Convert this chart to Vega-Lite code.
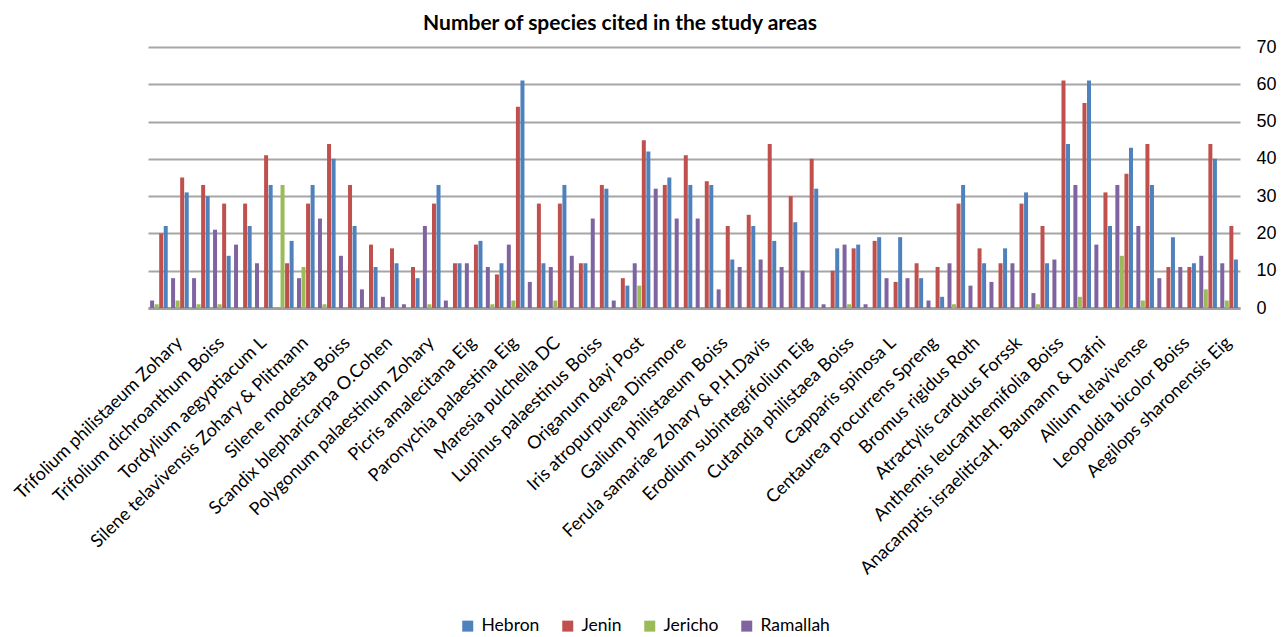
{
  "$schema": "https://vega.github.io/schema/vega-lite/v6.json",
  "width": 1092,
  "height": 261,
  "autosize": {"type": "none"},
  "padding": {"left": 148, "top": 47, "right": 48, "bottom": 329},
  "title": {
    "text": "Number of species cited in the study areas",
    "font": "Lato",
    "fontSize": 21,
    "fontWeight": "bold",
    "color": "#000000",
    "anchor": "middle",
    "dx": -74,
    "offset": 4
  },
  "data": {
    "values": [
      {"species": "(unlabeled 1)", "Hebron": 22, "Jenin": 20, "Jericho": 1, "Ramallah": 2},
      {"species": "Trifolium philistaeum Zohary", "Hebron": 31, "Jenin": 35, "Jericho": 2, "Ramallah": 8},
      {"species": "(unlabeled 3)", "Hebron": 30, "Jenin": 33, "Jericho": 1, "Ramallah": 8},
      {"species": "Trifolium dichroanthum Boiss", "Hebron": 14, "Jenin": 28, "Jericho": 1, "Ramallah": 21},
      {"species": "(unlabeled 5)", "Hebron": 22, "Jenin": 28, "Jericho": 0, "Ramallah": 17},
      {"species": "Tordylium aegyptiacum L", "Hebron": 33, "Jenin": 41, "Jericho": 0, "Ramallah": 12},
      {"species": "(unlabeled 7)", "Hebron": 18, "Jenin": 12, "Jericho": 33, "Ramallah": 0},
      {"species": "Silene telavivensis Zohary & Plitmann", "Hebron": 33, "Jenin": 28, "Jericho": 11, "Ramallah": 8},
      {"species": "(unlabeled 9)", "Hebron": 40, "Jenin": 44, "Jericho": 1, "Ramallah": 24},
      {"species": "Silene modesta Boiss", "Hebron": 22, "Jenin": 33, "Jericho": 0, "Ramallah": 14},
      {"species": "(unlabeled 11)", "Hebron": 11, "Jenin": 17, "Jericho": 0, "Ramallah": 5},
      {"species": "Scandix blepharicarpa  O.Cohen", "Hebron": 12, "Jenin": 16, "Jericho": 0, "Ramallah": 3},
      {"species": "(unlabeled 13)", "Hebron": 8, "Jenin": 11, "Jericho": 0, "Ramallah": 1},
      {"species": "Polygonum palaestinum Zohary", "Hebron": 33, "Jenin": 28, "Jericho": 1, "Ramallah": 22},
      {"species": "(unlabeled 15)", "Hebron": 12, "Jenin": 12, "Jericho": 0, "Ramallah": 2},
      {"species": "Picris amalecitana Eig", "Hebron": 18, "Jenin": 17, "Jericho": 0, "Ramallah": 12},
      {"species": "(unlabeled 17)", "Hebron": 12, "Jenin": 9, "Jericho": 1, "Ramallah": 11},
      {"species": "Paronychia palaestina Eig", "Hebron": 61, "Jenin": 54, "Jericho": 2, "Ramallah": 17},
      {"species": "(unlabeled 19)", "Hebron": 12, "Jenin": 28, "Jericho": 0, "Ramallah": 7},
      {"species": "Maresia pulchella DC", "Hebron": 33, "Jenin": 28, "Jericho": 2, "Ramallah": 11},
      {"species": "(unlabeled 21)", "Hebron": 12, "Jenin": 12, "Jericho": 0, "Ramallah": 14},
      {"species": "Lupinus palaestinus Boiss", "Hebron": 32, "Jenin": 33, "Jericho": 0, "Ramallah": 24},
      {"species": "(unlabeled 23)", "Hebron": 6, "Jenin": 8, "Jericho": 0, "Ramallah": 2},
      {"species": "Origanum dayi Post", "Hebron": 42, "Jenin": 45, "Jericho": 6, "Ramallah": 12},
      {"species": "(unlabeled 25)", "Hebron": 35, "Jenin": 33, "Jericho": 0, "Ramallah": 32},
      {"species": "Iris atropurpurea  Dinsmore", "Hebron": 33, "Jenin": 41, "Jericho": 0, "Ramallah": 24},
      {"species": "(unlabeled 27)", "Hebron": 33, "Jenin": 34, "Jericho": 0, "Ramallah": 24},
      {"species": "Galium philistaeum Boiss", "Hebron": 13, "Jenin": 22, "Jericho": 0, "Ramallah": 5},
      {"species": "(unlabeled 29)", "Hebron": 22, "Jenin": 25, "Jericho": 0, "Ramallah": 11},
      {"species": "Ferula samariae Zohary & P.H.Davis", "Hebron": 18, "Jenin": 44, "Jericho": 0, "Ramallah": 13},
      {"species": "(unlabeled 31)", "Hebron": 23, "Jenin": 30, "Jericho": 0, "Ramallah": 11},
      {"species": "Erodium subintegrifolium Eig", "Hebron": 32, "Jenin": 40, "Jericho": 0, "Ramallah": 10},
      {"species": "(unlabeled 33)", "Hebron": 16, "Jenin": 10, "Jericho": 0, "Ramallah": 1},
      {"species": "Cutandia philistaea Boiss", "Hebron": 17, "Jenin": 16, "Jericho": 1, "Ramallah": 17},
      {"species": "(unlabeled 35)", "Hebron": 19, "Jenin": 18, "Jericho": 0, "Ramallah": 1},
      {"species": "Capparis spinosa L", "Hebron": 19, "Jenin": 7, "Jericho": 0, "Ramallah": 8},
      {"species": "(unlabeled 37)", "Hebron": 8, "Jenin": 12, "Jericho": 0, "Ramallah": 8},
      {"species": "Centaurea procurrens Spreng", "Hebron": 3, "Jenin": 11, "Jericho": 0, "Ramallah": 2},
      {"species": "(unlabeled 39)", "Hebron": 33, "Jenin": 28, "Jericho": 1, "Ramallah": 12},
      {"species": "Bromus rigidus Roth", "Hebron": 12, "Jenin": 16, "Jericho": 0, "Ramallah": 6},
      {"species": "(unlabeled 41)", "Hebron": 16, "Jenin": 12, "Jericho": 0, "Ramallah": 7},
      {"species": "Atractylis carduus Forssk", "Hebron": 31, "Jenin": 28, "Jericho": 0, "Ramallah": 12},
      {"species": "(unlabeled 43)", "Hebron": 12, "Jenin": 22, "Jericho": 1, "Ramallah": 4},
      {"species": "Anthemis leucanthemifolia Boiss", "Hebron": 44, "Jenin": 61, "Jericho": 0, "Ramallah": 13},
      {"species": "(unlabeled 45)", "Hebron": 61, "Jenin": 55, "Jericho": 3, "Ramallah": 33},
      {"species": "Anacamptis israeliticaH. Baumann & Dafni", "Hebron": 22, "Jenin": 31, "Jericho": 0, "Ramallah": 17},
      {"species": "(unlabeled 47)", "Hebron": 43, "Jenin": 36, "Jericho": 14, "Ramallah": 33},
      {"species": "Allium telavivense", "Hebron": 33, "Jenin": 44, "Jericho": 2, "Ramallah": 22},
      {"species": "(unlabeled 49)", "Hebron": 19, "Jenin": 11, "Jericho": 0, "Ramallah": 8},
      {"species": "Leopoldia bicolor Boiss", "Hebron": 12, "Jenin": 11, "Jericho": 0, "Ramallah": 11},
      {"species": "(unlabeled 51)", "Hebron": 40, "Jenin": 44, "Jericho": 5, "Ramallah": 14},
      {"species": "Aegilops sharonensis Eig", "Hebron": 13, "Jenin": 22, "Jericho": 2, "Ramallah": 12}
    ]
  },
  "transform": [
    {"fold": ["Hebron", "Jenin", "Jericho", "Ramallah"], "as": ["area", "count"]}
  ],
  "mark": {"type": "bar"},
  "encoding": {
    "x": {
      "field": "species",
      "type": "nominal",
      "sort": null,
      "scale": {"paddingInner": 0.16, "paddingOuter": 0.1},
      "axis": {
        "title": null,
        "labelExpr": "indexof(datum.label, '(unlabeled') === 0 ? '' : datum.label",
        "labelAngle": -44,
        "labelAlign": "right",
        "labelBaseline": "middle",
        "labelFont": "Lato",
        "labelFontSize": 18,
        "labelColor": "#000000",
        "labelPadding": 32,
        "labelLimit": 500,
        "labelOverlap": false,
        "ticks": false,
        "domain": true,
        "domainColor": "#A0A0A0",
        "domainWidth": 3
      }
    },
    "xOffset": {
      "field": "area",
      "type": "nominal",
      "sort": ["Ramallah", "Jericho", "Jenin", "Hebron"],
      "scale": {"paddingInner": 0.12}
    },
    "y": {
      "field": "count",
      "type": "quantitative",
      "scale": {"domain": [0, 70], "nice": false},
      "axis": {
        "orient": "right",
        "title": null,
        "values": [0, 10, 20, 30, 40, 50, 60, 70],
        "grid": true,
        "gridColor": "#A6A6A6",
        "gridWidth": 2,
        "domain": false,
        "ticks": false,
        "labelFont": "Liberation Sans",
        "labelFontSize": 18,
        "labelColor": "#000000",
        "labelPadding": 16
      }
    },
    "color": {
      "field": "area",
      "type": "nominal",
      "scale": {
        "domain": ["Hebron", "Jenin", "Jericho", "Ramallah"],
        "range": ["#4F81BD", "#C0504D", "#9BBB59", "#8064A2"]
      },
      "legend": {
        "title": null,
        "orient": "none",
        "direction": "horizontal",
        "legendX": 311,
        "legendY": 570,
        "symbolType": "square",
        "symbolSize": 121,
        "symbolStrokeWidth": 0,
        "labelFont": "Lato",
        "labelFontSize": 17.5,
        "labelColor": "#000000",
        "labelOffset": 5,
        "columnPadding": 19
      }
    }
  },
  "config": {"view": {"stroke": null}}
}
